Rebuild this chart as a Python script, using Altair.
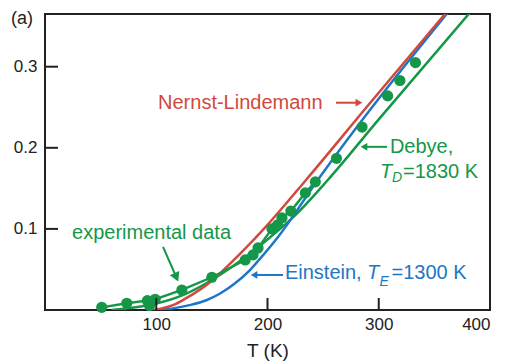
import altair as alt
import pandas as pd

FONT = "Liberation Sans"
RED = "#cf4a3c"
BLUE = "#1e76c6"
GREEN = "#15974a"
DARK = "#222222"

# experimental data
T_exp = [51, 73.5, 92, 94, 99, 123, 150, 180, 187, 191.5, 204, 209, 213, 221, 234, 243, 262, 285, 308, 319, 333]
C_exp = [0.0033, 0.0083, 0.0115, 0.0056, 0.0132, 0.0247, 0.0404, 0.0617, 0.068, 0.0765, 0.100, 0.105,
         0.1136, 0.122, 0.1444, 0.158, 0.187, 0.2256, 0.264, 0.283, 0.305]
N_CONNECTED = 16  # first points joined by a line

# Nernst-Lindemann
T_nl = [97, 105, 115, 125, 150, 170, 200, 235, 292, 362]
C_nl = [0.0, 0.002, 0.006, 0.013, 0.036, 0.062, 0.105, 0.161, 0.255, 0.369]
# Einstein
T_ein = [100, 115, 130, 145, 157, 170, 184, 195, 210, 245, 364]
C_ein = [0.0, 0.002, 0.006, 0.012, 0.020, 0.032, 0.049, 0.066, 0.091, 0.160, 0.370]
# Debye
T_deb = [60, 80, 100, 125, 150, 175, 200, 225, 254, 300, 384]
C_deb = [0.0, 0.003, 0.008, 0.019, 0.037, 0.060, 0.087, 0.117, 0.160, 0.235, 0.370]

x_tick_vals = [100, 200, 300, 400]
y_tick_vals = [0.1, 0.2, 0.3]
x_inner_ticks = [100, 200, 300]

xs = alt.Scale(domain=[0, 400], nice=False)
ys = alt.Scale(domain=[0, 0.365], nice=False)

xaxis = alt.Axis(values=x_tick_vals, labelFontSize=17, labelPadding=6, title="T (K)", titleFontSize=19,
                 titleFontWeight="normal", titlePadding=9, ticks=False, domain=False, grid=False,
                 labelColor=DARK, titleColor=DARK, labelFont=FONT, titleFont=FONT)
yaxis = alt.Axis(values=y_tick_vals, format=".1f", labelFontSize=17, labelPadding=8, title="",
                 ticks=False, domain=False, grid=False, labelColor=DARK, labelFont=FONT)


def X(field="T"):
    return alt.X(f"{field}:Q", scale=xs, axis=xaxis)


def Y(field="y"):
    return alt.Y(f"{field}:Q", scale=ys, axis=yaxis)


def curve(T, C, color):
    df = pd.DataFrame({"T": T, "y": C})
    return alt.Chart(df).mark_line(color=color, strokeWidth=2.5, clip=True, interpolate="monotone").encode(x=X(), y=Y())


red = curve(T_nl, C_nl, RED)
blue = curve(T_ein, C_ein, BLUE)
deb = curve(T_deb, C_deb, GREEN)

exp_df = pd.DataFrame({"T": T_exp, "y": C_exp})
exp_line = alt.Chart(exp_df.iloc[:N_CONNECTED]).mark_line(color=GREEN, strokeWidth=2.4).encode(x=X(), y=Y())
exp_pts = alt.Chart(exp_df).mark_point(filled=True, color=GREEN, opacity=1, size=125).encode(x=X(), y=Y())

# inner ticks
ytick_df = pd.DataFrame({"y": y_tick_vals})
yticks = alt.Chart(ytick_df).mark_rule(color=DARK, strokeWidth=2).encode(
    y=Y(), x=alt.value(0), x2=alt.value(13))
xtick_df = pd.DataFrame({"T": x_inner_ticks})
xticks = alt.Chart(xtick_df).mark_rule(color=DARK, strokeWidth=2).encode(
    x=X(), y=alt.value(296), y2=alt.value(284))

# panel label
panel_df = pd.DataFrame({"T": [-30.5], "y": [0.3699], "label": ["(a)"]})
panel = alt.Chart(panel_df).mark_text(align="left", baseline="top", font=FONT, fontSize=18, color=DARK).encode(
    x=X(), y=Y(), text="label:N")

# annotation texts (normal)
txt_label = ["Nernst-Lindemann", "Debye,", "=1830 K", "experimental data", "Einstein,", "=1300 K"]
txt_T = [101.6, 310.0, 321.8, 24.3, 215.7, 311.5]
txt_y = [0.2556, 0.2012, 0.1704, 0.0951, 0.0457, 0.0457]
txt_col = [RED, GREEN, GREEN, GREEN, BLUE, BLUE]
txt_df = pd.DataFrame({"T": txt_T, "y": txt_y, "label": txt_label, "col": txt_col})
texts = alt.Chart(txt_df).mark_text(align="left", baseline="middle", font=FONT, fontSize=20).encode(
    x=X(), y=Y(), text="label:N", color=alt.Color("col:N", scale=None))

# italic parts (T with subscripts)
it_label = ["T", "D", "T", "E"]
it_T = [301.1, 311.9, 289.4, 300.6]
it_y = [0.1704, 0.163, 0.0457, 0.0346]
it_col = [GREEN, GREEN, BLUE, BLUE]
it_size = [20, 14, 20, 14]
it_df = pd.DataFrame({"T": it_T, "y": it_y, "label": it_label, "col": it_col, "size": it_size})
itexts = alt.Chart(it_df).mark_text(align="left", baseline="middle", font=FONT, fontStyle="italic").encode(
    x=X(), y=Y(), text="label:N", color=alt.Color("col:N", scale=None),
    size=alt.Size("size:Q", scale=None))

# arrows: shafts
shaft_id = ["nl", "nl", "deb", "deb", "exp", "exp", "ein", "ein"]
shaft_T = [261.6, 282.0, 286.7, 307.4, 106.1, 118.1, 187.9, 213.9]
shaft_y = [0.2556, 0.2556, 0.2012, 0.2012, 0.0778, 0.0404, 0.0432, 0.0432]
shaft_col = [RED, RED, GREEN, GREEN, GREEN, GREEN, BLUE, BLUE]
shaft_df = pd.DataFrame({"T": shaft_T, "y": shaft_y, "id": shaft_id, "col": shaft_col})
shafts = alt.Chart(shaft_df).mark_line(strokeWidth=2).encode(
    x=X(), y=Y(), detail="id:N", color=alt.Color("col:N", scale=None))

# arrow heads
head_T = [282.2, 286.7, 118.1, 187.9]
head_y = [0.2556, 0.2012, 0.0404, 0.0432]
head_shape = ["triangle-right", "triangle-left", "triangle-down", "triangle-left"]
head_angle = [0, 0, 336, 0]
head_col = [RED, GREEN, GREEN, BLUE]
head_size = [60, 60, 110, 60]
head_df = pd.DataFrame({"T": head_T, "y": head_y, "shape": head_shape, "angle": head_angle,
                        "col": head_col, "size": head_size})
heads = alt.Chart(head_df).mark_point(filled=True, opacity=1).encode(
    x=X(), y=Y(), shape=alt.Shape("shape:N", scale=None), angle=alt.Angle("angle:Q", scale=None),
    color=alt.Color("col:N", scale=None), size=alt.Size("size:Q", scale=None))

chart = alt.layer(deb, blue, red, exp_line, exp_pts, yticks, xticks, panel, texts, itexts, shafts, heads).properties(
    width=445, height=296,
    autosize=alt.AutoSizeParams(type="none"),
    padding={"left": 37, "top": 6, "right": 15, "bottom": 52},
    background="white",
).configure_view(stroke=DARK, strokeWidth=2)

chart.save("out.html", embed_options={"renderer": "svg", "actions": False})
